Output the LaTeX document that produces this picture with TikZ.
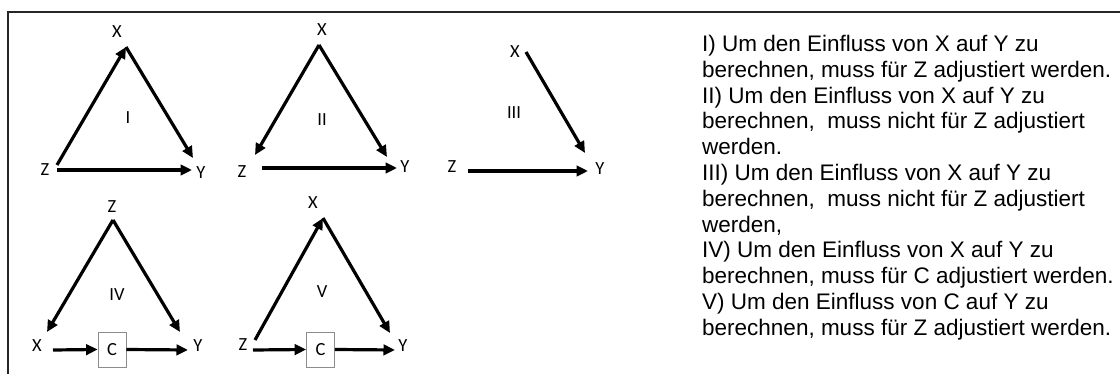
\documentclass[tikz,border=0pt]{standalone}
\usepackage{fontspec}
\setmainfont{Liberation Sans}
\newfontfamily\labfont{Carlito}
\usetikzlibrary{arrows.meta}
\tikzset{
  arr/.style={line width=3.2pt,-{Triangle[length=11.5pt,width=10.5pt]}},
  lab/.style={inner sep=0pt,font=\labfont\fontsize{18.5}{20}\selectfont},
  cbox/.style={draw=black!45,line width=0.8pt,minimum width=28pt,minimum height=35pt,inner sep=0pt,font=\labfont\fontsize{18.5}{20}\selectfont},
  frame/.style={line width=2pt,draw=black!85},
  desc/.style={inner sep=0pt,align=left,anchor=base west,font=\fontsize{22.5}{25.8}\selectfont}
}
\begin{document}
\begin{tikzpicture}[x=1pt,y=-1pt]
\useasboundingbox (0,0) rectangle (1120,374);
\coordinate (fb) at (8,374);
\coordinate (ftl) at (8,12);
\coordinate (fr) at (1120,12);
\draw[frame] (fb) -- (ftl) -- (fr);

% ---- I ----
\node[lab] (lXI) at (117,32) {X};
\node[lab] (lZI) at (45,170) {Z};
\node[lab] (lYI) at (201,173) {Y};
\node[lab] (nI) at (128,118) {I};
\coordinate (xI) at (126,47);
\coordinate (zIa) at (57,165);
\coordinate (zIb) at (57,170);
\coordinate (yIa) at (193,158);
\coordinate (yIb) at (192,170);
\draw[arr] (zIa) -- (xI);
\draw[arr] (xI) -- (yIa);
\draw[arr] (zIb) -- (yIb);

% ---- II ----
\node[lab] (lXII) at (322,30) {X};
\node[lab] (lZII) at (242,172) {Z};
\node[lab] (lYII) at (405,167) {Y};
\node[lab] (nII) at (322,120) {II};
\coordinate (xII) at (319,45);
\coordinate (zII) at (255,155);
\coordinate (yIIa) at (387,157);
\coordinate (zIIb) at (262,168);
\coordinate (yIIb) at (397,168);
\draw[arr] (xII) -- (zII);
\draw[arr] (xII) -- (yIIa);
\draw[arr] (zIIb) -- (yIIb);

% ---- III ----
\node[lab] (lXIII) at (515,52) {X};
\node[lab] (lZIII) at (452,167) {Z};
\node[lab] (lYIII) at (600,169) {Y};
\node[lab] (nIII) at (514,113) {III};
\coordinate (xIII) at (526,52);
\coordinate (yIIIa) at (585,153);
\coordinate (zIII) at (468,171);
\coordinate (yIIIb) at (588,171);
\draw[arr] (xIII) -- (yIIIa);
\draw[arr] (zIII) -- (yIIIb);

% ---- IV ----
\node[lab] (lZIV) at (112,207) {Z};
\node[lab] (lXIV) at (37,346) {X};
\node[lab] (lYIV) at (198,346) {Y};
\node[lab] (nIV) at (117,295) {IV};
\node[cbox] (cIV) at (112,349.5) {C};
\coordinate (zIV) at (113,220);
\coordinate (xIVa) at (47,332);
\coordinate (yIVa) at (180,332);
\coordinate (xIVb) at (53,350);
\coordinate (yIVb) at (188,350);
\draw[arr] (zIV) -- (xIVa);
\draw[arr] (zIV) -- (yIVa);
\draw[arr] (xIVb) -- (cIV.west);
\draw[arr] (cIV.east) -- (yIVb);

% ---- V ----
\node[lab] (lXV) at (313,203) {X};
\node[lab] (lZV) at (243,345) {Z};
\node[lab] (lYV) at (403,346) {Y};
\node[lab] (nV) at (322,292) {V};
\node[cbox] (cV) at (320.5,349.5) {C};
\coordinate (xV) at (323,218);
\coordinate (zVa) at (255,340);
\coordinate (yVa) at (390,333);
\coordinate (zVb) at (253,350);
\coordinate (yVb) at (395,350);
\draw[arr] (zVa) -- (xV);
\draw[arr] (xV) -- (yVa);
\draw[arr] (zVb) -- (cV.west);
\draw[arr] (cV.east) -- (yVb);

% ---- text ----
\node[desc] (txt) at (702,335.3) {I) Um den Einfluss von X auf Y zu\\
berechnen, muss für Z adjustiert werden.\\
II) Um den Einfluss von X auf Y zu\\
berechnen,\ \ muss nicht für Z adjustiert\\
werden.\\
III) Um den Einfluss von X auf Y zu\\
berechnen,\ \ muss nicht für Z adjustiert\\
werden,\\
IV) Um den Einfluss von X auf Y zu\\
berechnen, muss für C adjustiert werden.\\
V) Um den Einfluss von C auf Y zu\\
berechnen, muss für Z adjustiert werden.};
\end{tikzpicture}
\end{document}
